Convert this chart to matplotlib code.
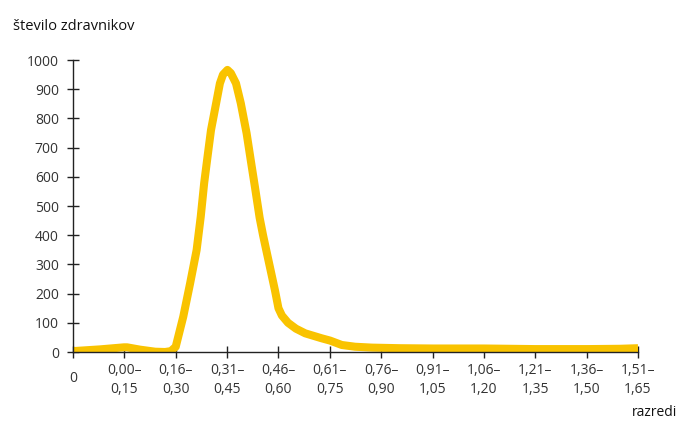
import matplotlib
matplotlib.use("Agg")
import matplotlib.pyplot as plt

# --- data ---
x_pos = [0.000, 0.079, 0.149, 0.158, 0.196, 0.240, 0.269, 0.286, 0.300, 0.322,
         0.342, 0.361, 0.373, 0.383, 0.393, 0.403, 0.418, 0.429, 0.438, 0.451,
         0.461, 0.476, 0.490, 0.507, 0.520, 0.532, 0.545, 0.555, 0.566,
         0.578, 0.590, 0.600, 0.610, 0.628, 0.651, 0.678, 0.726, 0.751, 0.785,
         0.824, 0.873, 0.955, 1.051, 1.200, 1.276, 1.349, 1.504, 1.597, 1.650]
counts = [3, 9, 16, 16, 8, 1, 0, 3, 18, 121,
          235, 349, 463, 578, 670, 760, 852, 920, 950, 966,
          955, 920, 852, 749, 650, 560, 460, 400, 340,
          275, 210, 150, 125, 100, 80, 64, 47, 39, 24,
          18, 15, 13, 12, 12, 11, 10, 10, 11, 13]

tick_pos = [0.0, 0.15, 0.30, 0.45, 0.60, 0.75, 0.90, 1.05, 1.20, 1.35, 1.50, 1.65]
tick_labels = ["", "0,00–\n0,15", "0,16–\n0,30", "0,31–\n0,45", "0,46–\n0,60",
               "0,61–\n0,75", "0,76–\n0,90", "0,91–\n1,05", "1,06–\n1,20",
               "1,21–\n1,35", "1,36–\n1,50", "1,51–\n1,65"]
y_ticks = list(range(0, 1001, 100))

title = "število zdravnikov"
xlabel = "razredi"

plt.rcParams['font.family'] = ['Open Sans', 'DejaVu Sans']

W, H = 679, 421
fig = plt.figure(figsize=(W / 100, H / 100), dpi=100)
ax = fig.add_axes([73 / W, 1 - 352 / H, (638 - 73) / W, (352 - 60) / H])

ax.plot(x_pos, counts, color="#F9C300", lw=5.8, solid_joinstyle="round",
        solid_capstyle="butt", zorder=3)

ax.set_xlim(0, 1.65)
ax.set_ylim(0, 1000)

axis_color = "#222222"
for s in ["top", "right"]:
    ax.spines[s].set_visible(False)
for s in ["left", "bottom"]:
    ax.spines[s].set_color(axis_color)
    ax.spines[s].set_linewidth(1.0)
    ax.spines[s].set_zorder(4)

ax.set_yticks(y_ticks)
ax.set_yticklabels([str(v) for v in y_ticks])
ax.set_xticks(tick_pos)
ax.set_xticklabels(tick_labels, linespacing=1.3)

ax.tick_params(axis="both", direction="inout", length=8.5, width=1.0,
               color=axis_color, labelcolor="#333333", labelsize=10)
ax.tick_params(axis="y", pad=6)
ax.tick_params(axis="x", pad=4)

ax.text(0, -0.092, "0", transform=ax.get_xaxis_transform(), ha="center",
        va="center", fontsize=10, color="#333333")

fig.text(13 / W, 1 - 30 / H, title, ha="left", va="baseline", fontsize=10.5,
         color="#111111")
fig.text(677 / W, 1 - 413 / H, xlabel, ha="right", va="center", fontsize=10,
         color="#111111")

fig.savefig("out.png", dpi=100)
